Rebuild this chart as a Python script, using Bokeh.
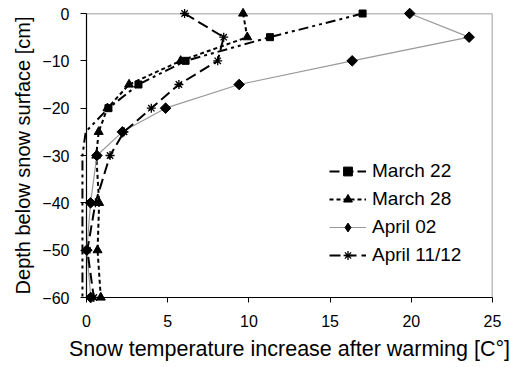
import math
from bokeh.plotting import figure
from bokeh.models import ColumnDataSource, Legend, LegendItem, FixedTicker, CDSView, BooleanFilter
from bokeh.embed import file_html
from bokeh.resources import INLINE

# ---- data ----
depth = [0, -5, -10, -15, -20, -25, -30, -40, -50, -60]
march22 = [17.0, 11.3, 6.1, 3.2, 1.35, -0.05, -0.25, -0.25, -0.25, -0.25]
march28 = [9.64, 9.9, 5.8, 2.62, 1.29, 0.75, 0.6, 0.78, 0.68, 0.88]
april02 = [19.9, 23.56, 16.36, 9.4, 4.87, 2.21, 0.64, 0.25, 0.02, 0.26]
april11 = [6.04, 8.45, 8.08, 5.69, 3.99, 2.31, 1.45, 0.55, 0.05, 0.45]
series_names = ["March 22", "March 28", "April 02", "April 11/12"]
x_ticks = [0, 5, 10, 15, 20, 25]
y_ticks = [0, -10, -20, -30, -40, -50, -60]

FONT = "Liberation Sans"

p = figure(width=510, height=367, output_backend="svg", toolbar_location=None,
           x_range=(x_ticks[0], x_ticks[-1]), y_range=(y_ticks[-1], y_ticks[0]),
           min_border_left=86, min_border_right=18, min_border_top=13, min_border_bottom=70)
p.outline_line_color = None
p.xgrid.visible = False
p.ygrid.visible = False
p.background_fill_color = "white"

p.xaxis.ticker = FixedTicker(ticks=x_ticks)
p.yaxis.ticker = FixedTicker(ticks=y_ticks)
for ax in (p.xaxis, p.yaxis):
    ax.axis_line_color = "black"
    ax.axis_line_width = 1.2
    ax.major_tick_line_color = "black"
    ax.major_tick_in = 0
    ax.minor_tick_line_color = None
    ax.major_label_text_font = FONT
    ax.major_label_text_font_size = "16px"
    ax.major_label_text_color = "black"
    ax.axis_label_text_font = FONT
    ax.axis_label_text_font_style = "normal"
    ax.axis_label_text_color = "black"
p.xaxis.major_tick_out = 5
p.yaxis.major_tick_out = 6
p.xaxis.major_label_standoff = 12
p.yaxis.major_label_standoff = 11
p.xaxis.axis_label = "Snow temperature increase after warming [C°]"
p.yaxis.axis_label = "Depth below snow surface [cm]"
p.xaxis.axis_label_text_font_size = "21.5px"
p.yaxis.axis_label_text_font_size = "20px"
p.xaxis.axis_label_standoff = 7
p.yaxis.axis_label_standoff = 5

# plot-area border (top and right, gray)
p.line(x=[x_ticks[0], x_ticks[-1], x_ticks[-1]], y=[y_ticks[0], y_ticks[0], y_ticks[-1]],
       line_color="#808080", line_width=1.5)

src = ColumnDataSource(dict(depth=depth, m22=march22, m28=march28, a02=april02, a11=april11))
LV = "overlay"

l22 = p.line("m22", "depth", source=src, line_color="black", line_width=2,
             line_dash="10 4 3 4 3 4", level=LV)
view22 = CDSView(filter=BooleanFilter([v >= 0 for v in march22]))
s22 = p.scatter("m22", "depth", source=src, view=view22, marker="square", size=7,
                color="black", level=LV)

l28 = p.line("m28", "depth", source=src, line_color="black", line_width=2, line_dash="4 3", level=LV)
s28 = p.scatter("m28", "depth", source=src, marker="triangle", size=9, color="black", level=LV)

l02 = p.line("a02", "depth", source=src, line_color="#999999", line_width=1.2, level=LV)
s02 = p.scatter("a02", "depth", source=src, marker="square", angle=math.pi / 4, size=7.5,
                color="black", level=LV)
# legend-only key marker (the legend does not rotate markers); it has no visible point
key_src = ColumnDataSource(dict(x=[float("nan")], y=[float("nan")]))
k02 = p.scatter("x", "y", source=key_src, marker="diamond", size=12, color="black")

l11 = p.line("a11", "depth", source=src, line_color="black", line_width=2, line_dash="11 5", level=LV)
s11 = p.scatter("a11", "depth", source=src, marker="asterisk", size=9, line_color="black",
                line_width=1.3, level=LV)

legend = Legend(items=[
    LegendItem(label=series_names[0], renderers=[l22, s22]),
    LegendItem(label=series_names[1], renderers=[l28, s28]),
    LegendItem(label=series_names[2], renderers=[l02, k02]),
    LegendItem(label=series_names[3], renderers=[l11, s11]),
], location=(243, 31))
legend.padding = 0
legend.margin = 0
legend.spacing = 6
legend.glyph_width = 37
legend.glyph_height = 22
legend.label_height = 22
legend.label_standoff = 6
legend.border_line_color = None
legend.background_fill_alpha = 0
legend.label_text_font = FONT
legend.label_text_font_size = "19px"
legend.label_text_color = "black"
p.add_layout(legend, "center")

open("out.html", "w").write(file_html(p, INLINE))
